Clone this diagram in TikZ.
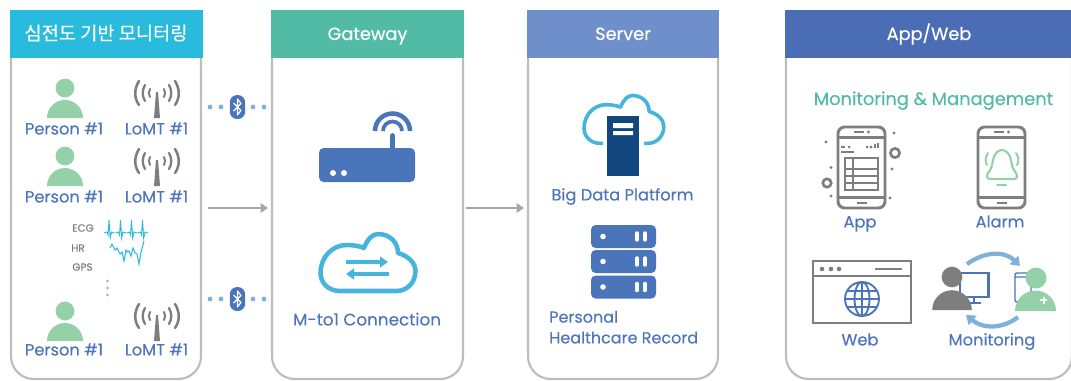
\documentclass[tikz,border=0pt]{standalone}
\usepackage{fontspec}
\setmainfont[FakeBold=0.25]{Poppins}
\newfontfamily\krfont[FakeBold=0.25]{Noto Sans CJK KR}
\usetikzlibrary{arrows.meta}
\definecolor{headA}{HTML}{29BBDD}
\definecolor{headB}{HTML}{52BBA5}
\definecolor{headC}{HTML}{6F8FCB}
\definecolor{headD}{HTML}{4A6DB5}
\definecolor{framegray}{HTML}{BDBDBD}
\definecolor{icongray}{HTML}{7E7E7E}
\definecolor{iconblue}{HTML}{4A75BA}
\definecolor{labelblue}{HTML}{4F76BC}
\definecolor{skyblue}{HTML}{45B5DD}
\definecolor{dotblue}{HTML}{7FB2D9}
\definecolor{navy}{HTML}{12467E}
\definecolor{mint}{HTML}{94D1A8}
\tikzset{
    pics/personicon/.style={code={
        \fill[#1] (0,-30) circle (9.4);
        \fill[#1] (-18,0) arc[start angle=180,end angle=360,radius=18] -- cycle;
    }},
    pics/lomticon/.style={code={
        \fill[icongray] (-3,0) -- (3,0) -- (1,-26) -- (-1,-26) -- cycle;
        \foreach \side in {-1,1} {
            \draw[icongray,line width=1.9pt,line cap=round] (\side*18,-37) .. controls (\side*23,-29) and (\side*23,-20) .. (\side*18,-13);
            \draw[icongray,line width=1.7pt,line cap=round] (\side*12,-33) .. controls (\side*15,-28) and (\side*15,-22) .. (\side*12,-17);
            \draw[icongray,line width=1.5pt,line cap=round] (\side*7,-29) .. controls (\side*8.5,-26) and (\side*8.5,-24) .. (\side*7,-21);
        }
    }},
    pics/cloudicon/.style={code={
        \draw[skyblue,#1,line join=round] (-27.5,29) .. controls (-39,29) and (-47,21) .. (-47,11)
            .. controls (-47,-5) and (-35,-17) .. (-21,-17)
            .. controls (-14,-17) and (-8,-16) .. (-3.5,-14)
            .. controls (0,-23) and (5,-28) .. (10.5,-28)
            .. controls (22,-28) and (30.5,-20) .. (30.5,-9)
            .. controls (41,-6) and (48,1) .. (48,9)
            .. controls (48,21) and (39,29) .. (29,29) -- cycle;
    }},
    pics/phoneicon/.style={code={
        \draw[icon,rounded corners=5pt] (-23.5,-40.5) rectangle (23.5,40.5);
        \draw[icon] (-23.5,-30) -- (23.5,-30) (-23.5,30) -- (23.5,30);
        \draw[icon,line width=1.6pt] (-8,-35.5) -- (2,-35.5) (-5,35.5) -- (5,35.5);
        \fill[icongray] (7,-35.5) circle (1.7);
    }}
}
\begin{document}
\begin{tikzpicture}[
        x=0.75pt, y=-0.75pt,
        panelhead/.style={text=white, inner sep=0pt, outer sep=0pt, font=\fontsize{13.3pt}{16pt}\selectfont, minimum height=36pt, text height=11pt, text depth=2pt},
        panelbody/.style={draw=framegray, line width=1.6pt, fill=white, rounded corners=17pt, minimum height=256.5pt, inner sep=0pt, outer sep=0pt},
        itemlabel/.style={text=labelblue, inner sep=0pt, font=\fontsize{12.2pt}{14pt}\selectfont, text height=10.2pt, text depth=2pt},
        signallabel/.style={text=icongray, inner sep=0pt, font=\fontsize{7.8pt}{10pt}\selectfont},
        flowarrow/.style={draw=gray!70, line width=1.5pt, -{Triangle[length=5.5pt,width=7pt]}, shorten >=3pt},
        loopline/.style={draw=dotblue, line width=3.2pt, -{Triangle[length=6.5pt,width=9pt]}},
        btbadge/.style={fill=iconblue, rounded corners=5.6pt, minimum width=11.6pt, minimum height=18pt, inner sep=0pt},
        icon/.style={draw=icongray, line width=2.2pt},
        bluethin/.style={draw=iconblue, line width=1.4pt}
    ]
    \useasboundingbox (0,0) rectangle (1071,380);
    % panels
    \foreach \pname/\cx/\bw/\hw/\hcol/\title in {
        A/106/190/193/headA/{\krfont\fontsize{14pt}{16pt}\selectfont 심전도 기반 모니터링},
        B/367.5/191/193/headB/Gateway,
        C/623/190/192/headC/Server,
        D/929/286/288/headD/{App/Web}
    } {
        \node[panelbody, minimum width=\bw*0.75pt] (panel\pname) at (\cx,208) {};
        \node[panelhead, fill=\hcol, minimum width=\hw*0.75pt] (head\pname) at (\cx,34) {\title};
    }
    \draw[flowarrow, shorten <=5pt] (panelA) -- (panelB);
    \draw[flowarrow, shorten <=2.5pt] (panelB) -- (panelC);
    % bluetooth links
    \foreach \btname/\by in {btTop/107, btBottom/299} {
        \node[btbadge] (\btname) at (237.5,\by) {};
        \draw[white, line width=0.9pt, line join=round] ([xshift=-3pt,yshift=-3pt]\btname.center) -- ([xshift=2.6pt,yshift=2.6pt]\btname.center)
            -- ([yshift=6pt]\btname.center) -- ([yshift=-6pt]\btname.center)
            -- ([xshift=2.6pt,yshift=-2.6pt]\btname.center) -- ([xshift=-3pt,yshift=3pt]\btname.center);
        \foreach \dx in {210,221,253,264}
            \fill[dotblue] (\dx,\by) circle (2.4);
    }
    % devices
    \foreach \rowname/\base/\ly in {a/118/129, b/186/197, c/341/350} {
        \pic at (65,\base) {personicon=mint};
        \pic at (157,\base) {lomticon};
        \node[itemlabel] (person\rowname) at (64,\ly) {Person \#1};
        \node[itemlabel] (lomt\rowname) at (156.5,\ly) {LoMT \#1};
    }
    \node[signallabel] (ecg) at (83,228) {ECG};
    \node[signallabel] (hr) at (78,248) {HR};
    \node[signallabel] (gps) at (82.5,267) {GPS};
    \foreach \sx in {109,120.5,131.5,142.5}
        \draw[headA, line width=0.7pt] (\sx-5,233) -- (\sx-2,232) -- (\sx-1,235) -- (\sx,220) -- (\sx+1.2,238) -- (\sx+2.5,232) -- (\sx+5.5,233);
    \draw[headA, line width=0.8pt] (110,248) -- (112,244) -- (115,250) -- (117,248) -- (120,254) -- (122,252) -- (124,261)
        -- (126,250) -- (127,252) -- (129,251) -- (131,256) -- (133,248) -- (135,253) -- (137,254) -- (139,264) -- (141,252) -- (143,245) -- (144,241);
    \foreach \dy in {281,288,295}
        \fill[icongray!70] (107.5,\dy) circle (1.3);
    % gateway
    \fill[iconblue, rounded corners=3.5pt] (319,148) rectangle (415,182);
    \fill[white] (333,173) circle (3) (344,173) circle (3);
    \draw[iconblue, line width=4.4pt, line cap=round] (392.5,150) -- (392.5,136);
    \draw[iconblue, line width=3.4pt] (375,131) arc[start angle=180,end angle=360,radius=17.5];
    \draw[iconblue, line width=2.8pt] (383,131) arc[start angle=180,end angle=360,radius=9.5];
    \pic at (367.5,262) {cloudicon={line width=3.4pt}};
    \draw[skyblue, line width=3pt, -{Triangle[length=6pt,width=8pt]}] (346,262) -- (388,262);
    \draw[skyblue, line width=3pt, -{Triangle[length=6pt,width=8pt]}] (389,274) -- (346,274);
    \node[itemlabel, font=\fontsize{12.6pt}{14pt}\selectfont] (mconn) at (367,320) {M-to1 Connection};
    % server
    \pic at (623.5,119) {cloudicon={line width=2.7pt, scale=0.84}};
    \fill[white] (603,125) rectangle (644,150);
    \fill[navy] (607,116) rectangle (639,176);
    \fill[white] (613,123) rectangle (633,128) (613,131) rectangle (633,135);
    \node[itemlabel] (bigdata) at (622.5,195) {Big Data Platform};
    \foreach \ry in {236.5,261.5,287} {
        \fill[iconblue, rounded corners=3.5pt] (591,\ry-11.5) rectangle (656,\ry+11.5);
        \fill[white] (603,\ry) circle (2.8);
        \draw[white, line width=2.6pt, line cap=round] (637,\ry-3.5) -- (637,\ry+3.5) (645,\ry-3.5) -- (645,\ry+3.5);
    }
    \node[itemlabel, align=left, anchor=north west, text height=, text depth=, font=\fontsize{12pt}{15.6pt}\selectfont] (phr) at (549,310.5) {Personal\\Healthcare Record};
    % app and web
    \node[text=headB, inner sep=0pt, font=\fontsize{13.4pt}{16pt}\selectfont, text height=11pt, text depth=2pt] (mgmt) at (933.5,99) {Monitoring \& Management};
    \pic at (861.5,167.5) {phoneicon};
    \draw[icon, line width=1.8pt] (845,158) rectangle (878,190);
    \draw[icon, line width=1.8pt] (845,169) -- (878,169) (845,176) -- (878,176) (845,183) -- (878,183) (853,158) -- (853,190);
    \draw[icon, line width=1.5pt] (841,147) -- (845,147) (841,152) -- (854,152);
    \fill[icongray] (849,147) circle (1.5) (867,147) circle (1.5) (871,147) circle (1.7);
    \draw[icon, line width=1.7pt] (875,148) -- (875,144) (878,148) -- (878,143);
    \foreach \gx/\gy in {826/142, 894/133, 831/167.5, 892/169, 831/196, 890/198}
        \fill[icongray] (\gx,\gy) circle (1.6);
    \draw[icon, line width=2pt] (895,153) circle (4.6) (827,183) circle (4.2);
    \node[itemlabel] (app) at (860,222) {App};
    \pic at (1001.5,167.5) {phoneicon};
    \draw[mint, line width=1.6pt, line join=round] (1002,150) .. controls (998,150) and (994,154) .. (993,160)
        .. controls (992,165) and (992,168) .. (988,173) .. controls (986,176) and (987,179) .. (990,179)
        -- (1014,179) .. controls (1017,179) and (1018,176) .. (1016,173)
        .. controls (1012,168) and (1012,165) .. (1011,160) .. controls (1010,154) and (1006,150) .. (1002,150) -- cycle;
    \draw[mint, line width=1.5pt, line cap=round] (997,185) -- (1006,185) (988,153) .. controls (985,157) and (985,162) .. (987,165) (1016,153) .. controls (1019,157) and (1019,162) .. (1017,165);
    \node[itemlabel] (alarm) at (1000,222) {Alarm};
    \draw[icon] (813,261) rectangle (911,323) (813,276) -- (911,276);
    \fill[icongray] (822,269) circle (2.3) (831,269) circle (2.3) (839,269) circle (2.3);
    \draw[icon, line width=1.4pt] (875,269) -- (902,269);
    \draw[bluethin] (862,299) circle (17) (862,299) ellipse (7.5 and 17) (845,299) -- (879,299) (847.5,291) -- (876.5,291) (847.5,307) -- (876.5,307) (862,282) -- (862,316);
    \node[itemlabel] (web) at (860,340) {Web};
    \draw[iconblue, line width=1.9pt] (960,273) rectangle (988.5,297) (974,297) -- (974,303) (966,303) -- (981,303);
    \pic[scale=1.1] at (952,310) {personicon=icongray};
    \draw[bluethin, rounded corners=1.5pt, line width=1.1pt] (1015,273) rectangle (1031,302) (1015,277) -- (1031,277);
    \fill[mint] (1036,278) circle (10.5);
    \fill[mint] (1015,311) arc[start angle=180,end angle=360,radius=20.5] -- cycle;
    \draw[white, line width=1.5pt] (1040,300) -- (1047,300) (1043.5,296.5) -- (1043.5,303.5);
    \draw[loopline] (967,264) .. controls (985,251) and (1005,251) .. (1020,266);
    \draw[loopline] (1018,317) .. controls (1003,329) and (983,329) .. (966,315);
    \node[itemlabel] (monitoring) at (992,340) {Monitoring};
\end{tikzpicture}
\end{document}
